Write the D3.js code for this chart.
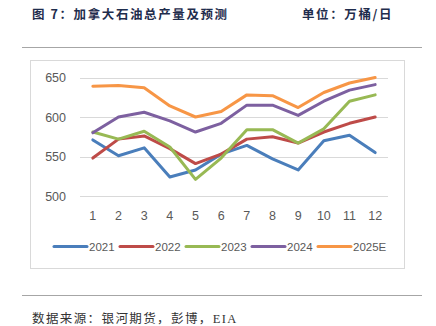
<!DOCTYPE html>
<html>
<head>
<meta charset="utf-8">
<script src="https://cdn.jsdelivr.net/npm/d3@7"></script>
<style>
  body { margin: 0; background: #fff; }
  svg { display: block; }
</style>
</head>
<body>
<div id="chart"></div>
<script>
// monthly production, 10k barrels/day
const months = ["1", "2", "3", "4", "5", "6", "7", "8", "9", "10", "11", "12"];
const y2021 = [571, 551, 561, 524, 533, 553, 564, 547, 533, 570, 577, 555];
const y2022 = [548, 572, 576, 560, 541, 553, 572, 575, 567, 581, 592, 600];
const y2023 = [581, 572, 582, 562, 521, 548, 584, 584, 567, 585, 620, 628];
const y2024 = [580, 600, 606, 595, 581, 592, 615, 615, 602, 620, 634, 641];
const y2025 = [639, 640, 637, 614, 600, 607, 628, 627, 612, 631, 643, 650];
const seriesNames = ["2021", "2022", "2023", "2024", "2025E"];
const yTicks = [500, 550, 600, 650];

const seriesList = [y2021, y2022, y2023, y2024, y2025];
const colors = ["#4a7ebb", "#be4b48", "#98b954", "#7d60a0", "#f79646"];

const W = 436, H = 326;
const svg = d3.select("#chart").append("svg").attr("width", W).attr("height", H);

const sans = "'Noto Sans CJK SC', 'Noto Sans', sans-serif";

// header
svg.append("text").attr("x", 32).attr("y", 19)
  .attr("font-family", sans).attr("font-size", "12.5px").attr("font-weight", "bold")
  .attr("letter-spacing", "1.6px").attr("fill", "#1f2d4d")
  .text("图 7：加拿大石油总产量及预测");
svg.append("text").attr("x", 302).attr("y", 19)
  .attr("font-family", sans).attr("font-size", "12.5px").attr("font-weight", "bold")
  .attr("letter-spacing", "1.6px").attr("fill", "#1f2d4d")
  .text("单位：万桶/日");
svg.append("line").attr("x1", 22).attr("x2", 422).attr("y1", 47.5).attr("y2", 47.5)
  .attr("stroke", "#a6a6a6").attr("stroke-width", 1.2);

// chart frame
svg.append("rect").attr("x", 30.5).attr("y", 60.5).attr("width", 374).attr("height", 208)
  .attr("fill", "none").attr("stroke", "#d9d9d9").attr("stroke-width", 1);

const plot = { left: 80, right: 388, top: 77.5, bottom: 196 };

const x = d3.scaleBand().domain(months).range([plot.left, plot.right]);
const y = d3.scaleLinear().domain([500, 650]).range([plot.bottom, plot.top]);

// gridlines
svg.append("g").selectAll("line").data(yTicks).join("line")
  .attr("x1", plot.left).attr("x2", plot.right)
  .attr("y1", d => Math.round(y(d)) + 0.5).attr("y2", d => Math.round(y(d)) + 0.5)
  .attr("stroke", "#d9d9d9").attr("stroke-width", 1);

// y axis labels
const yAxis = svg.append("g").attr("transform", `translate(${plot.left - 14},0)`)
  .call(d3.axisLeft(y).tickValues(yTicks).tickSize(0).tickPadding(0));
yAxis.select(".domain").remove();
yAxis.selectAll("text").attr("font-family", "'Liberation Sans', Arial, sans-serif")
  .attr("font-size", "12.5px").attr("fill", "#595959");

// x axis labels
const xAxis = svg.append("g").attr("transform", `translate(0,${plot.bottom + 9})`)
  .call(d3.axisBottom(x).tickSize(0).tickPadding(6));
xAxis.select(".domain").remove();
xAxis.selectAll("text").attr("font-family", "'Liberation Sans', Arial, sans-serif")
  .attr("font-size", "12.5px").attr("fill", "#595959");

// series lines
const line = d3.line()
  .x((d, i) => x(months[i]) + x.bandwidth() / 2)
  .y(d => y(d));

svg.append("g").selectAll("path").data(seriesList).join("path")
  .attr("d", d => line(d))
  .attr("fill", "none")
  .attr("stroke", (d, i) => colors[i])
  .attr("stroke-width", 3)
  .attr("stroke-linejoin", "round")
  .attr("stroke-linecap", "round");

// legend
const legend = svg.append("g").selectAll("g").data(seriesNames).join("g")
  .attr("transform", (d, i) => `translate(${54 + i * 66},246.5)`);
legend.append("line").attr("x1", 0).attr("x2", 33).attr("y1", 0).attr("y2", 0)
  .attr("stroke", (d, i) => colors[i]).attr("stroke-width", 3).attr("stroke-linecap", "round");
legend.append("text").attr("x", 35).attr("y", 4.5)
  .attr("font-family", "'Liberation Sans', Arial, sans-serif")
  .attr("font-size", "11.5px").attr("fill", "#595959")
  .text(d => d);

// footer
svg.append("line").attr("x1", 22).attr("x2", 422).attr("y1", 295.5).attr("y2", 295.5)
  .attr("stroke", "#a6a6a6").attr("stroke-width", 1.2);
svg.append("text").attr("x", 32).attr("y", 323)
  .attr("font-family", "'Liberation Serif', 'Noto Sans CJK SC', serif").attr("font-size", "12.5px")
  .attr("letter-spacing", "1.4px").attr("fill", "#333")
  .text("数据来源：银河期货，彭博，EIA");
</script>
</body>
</html>
